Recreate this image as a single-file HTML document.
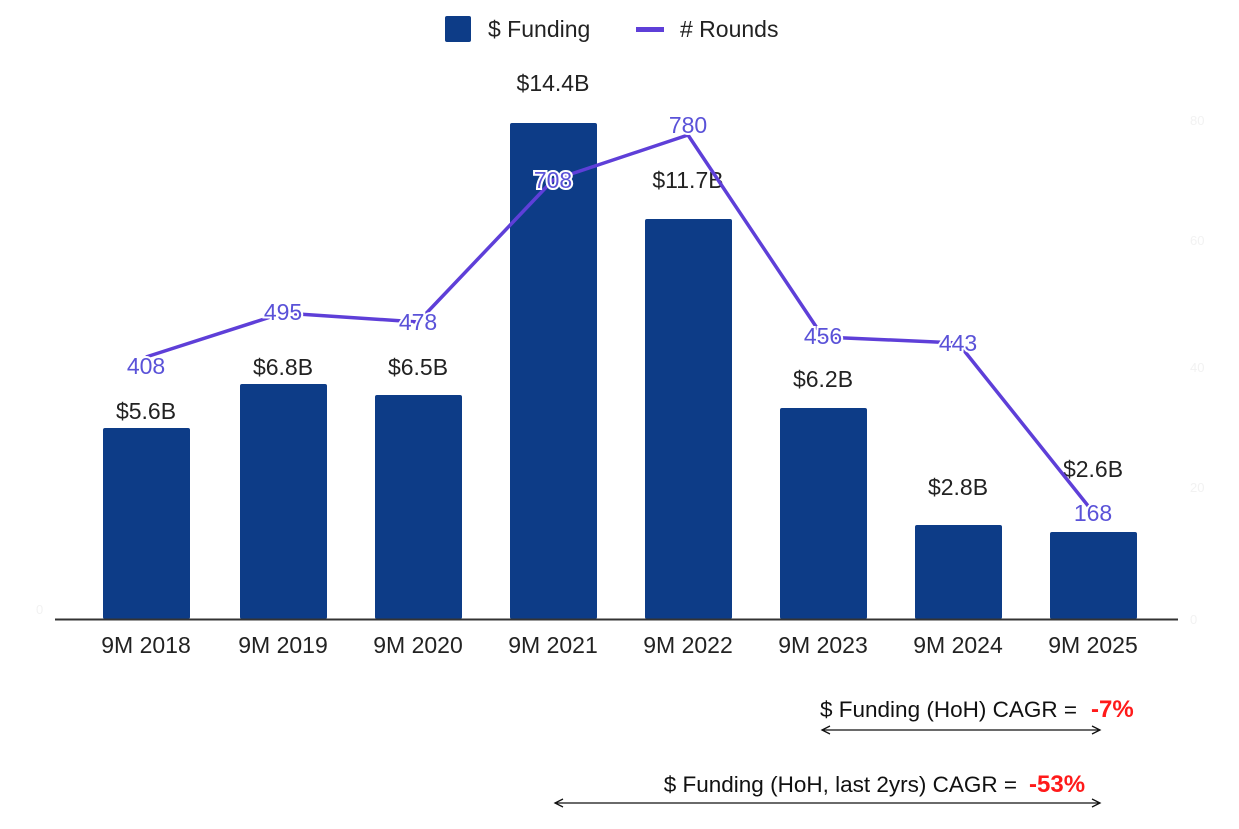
<!DOCTYPE html>
<html><head><meta charset="utf-8"><style>
body{margin:0;background:#fff;}
svg{display:block;font-family:"Liberation Sans",sans-serif;}
</style></head><body>
<svg width="1239" height="829" viewBox="0 0 1239 829">
<rect width="1239" height="829" fill="#fff"/>
<rect x="445" y="16" width="26" height="26" fill="#0d3c87" rx="2"/>
<text x="488" y="37" font-size="23" fill="#222">$ Funding</text>
<rect x="636" y="27" width="28" height="5" fill="#5e3fd8"/>
<text x="680" y="37" font-size="23" fill="#222"># Rounds</text>
<g font-size="13" fill="#f2f2f2">
<text x="1190" y="125">80</text><text x="1190" y="245">60</text><text x="1190" y="372">40</text><text x="1190" y="492">20</text><text x="1190" y="624">0</text>
<text x="36" y="614">0</text>
</g>
<g fill="#0d3c87">
<rect x="103" y="428" width="87" height="191" rx="2"/>
<rect x="240" y="384" width="87" height="235" rx="2"/>
<rect x="375" y="395" width="87" height="224" rx="2"/>
<rect x="510" y="123" width="87" height="496" rx="2"/>
<rect x="645" y="219" width="87" height="400" rx="2"/>
<rect x="780" y="408" width="87" height="211" rx="2"/>
<rect x="915" y="525" width="87" height="94" rx="2"/>
<rect x="1050" y="532" width="87" height="87" rx="2"/>
</g>
<line x1="55" y1="619.5" x2="1178" y2="619.5" stroke="#333" stroke-width="2"/>
<g font-size="23" fill="#222" text-anchor="middle">
<text x="146" y="419">$5.6B</text>
<text x="283" y="375">$6.8B</text>
<text x="418" y="375">$6.5B</text>
<text x="553" y="91">$14.4B</text>
<text x="688" y="188">$11.7B</text>
<text x="823" y="387">$6.2B</text>
<text x="958" y="495">$2.8B</text>
<text x="1093" y="477">$2.6B</text>
</g>
<polyline points="146,357 283,313 418,322 553,180 688,135 823,337 958,343 1093,512" fill="none" stroke="#5e3fd8" stroke-width="3.5" stroke-linejoin="round"/>
<g font-size="23" fill="#5a52d8" text-anchor="middle" stroke="#fff" stroke-width="4" paint-order="stroke">
<text x="146" y="374">408</text>
<text x="283" y="320">495</text>
<text x="418" y="330">478</text>
<text x="553" y="188">708</text>
<text x="688" y="133">780</text>
<text x="823" y="344">456</text>
<text x="958" y="351">443</text>
<text x="1093" y="521">168</text>
</g>
<g font-size="23" fill="#222" text-anchor="middle">
<text x="146" y="653">9M 2018</text>
<text x="283" y="653">9M 2019</text>
<text x="418" y="653">9M 2020</text>
<text x="553" y="653">9M 2021</text>
<text x="688" y="653">9M 2022</text>
<text x="823" y="653">9M 2023</text>
<text x="958" y="653">9M 2024</text>
<text x="1093" y="653">9M 2025</text>
</g>
<g font-size="22.5" fill="#111">
<text x="1077" y="717" text-anchor="end" textLength="257" lengthAdjust="spacingAndGlyphs" dx="0">$ Funding (HoH) CAGR =</text>
<text x="1017" y="792" text-anchor="end">$ Funding (HoH, last 2yrs) CAGR =</text>
</g>
<g font-size="24" fill="#ff1a1a" font-weight="bold">
<text x="1091" y="717">-7%</text>
<text x="1029" y="792">-53%</text>
</g>
<g stroke="#111" stroke-width="1.3" fill="none">
<line x1="822" y1="730" x2="1100" y2="730"/>
<polyline points="830,726 822,730 830,734"/><polyline points="1092,726 1100,730 1092,734"/>
<line x1="555" y1="803" x2="1100" y2="803"/>
<polyline points="563,799 555,803 563,807"/><polyline points="1092,799 1100,803 1092,807"/>
</g>
</svg>
</body></html>
